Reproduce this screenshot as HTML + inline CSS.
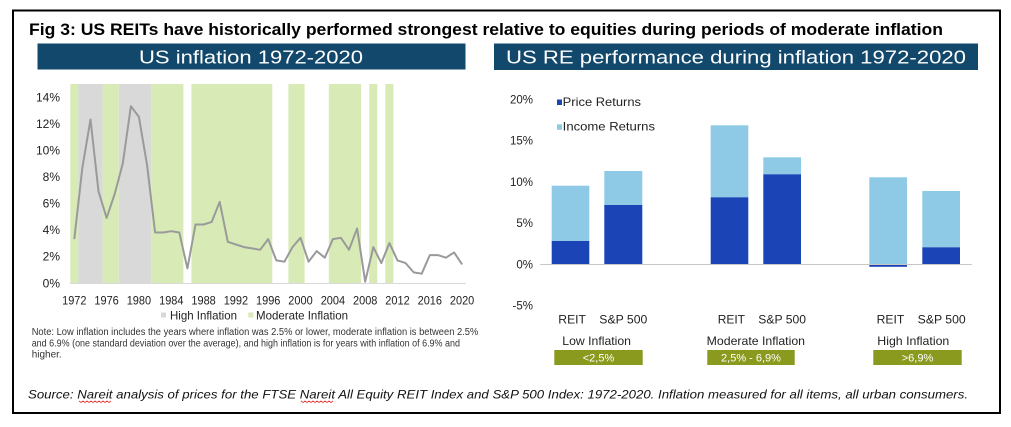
<!DOCTYPE html>
<html><head><meta charset="utf-8"><style>
html,body{margin:0;padding:0;background:#fff;}
svg{display:block;font-family:"Liberation Sans",Arial,sans-serif;}
</style></head><body>
<svg width="1011" height="427" viewBox="0 0 1011 427" xmlns="http://www.w3.org/2000/svg">
<rect x="0" y="0" width="1011" height="427" fill="#fff"/>
<rect x="13" y="10.5" width="987" height="402.5" fill="none" stroke="#000" stroke-width="2"/>
<text x="29" y="35" font-size="17" font-weight="bold" fill="#000" textLength="914" lengthAdjust="spacingAndGlyphs">Fig 3: US REITs have historically performed strongest relative to equities during periods of moderate inflation</text>

<!-- header bars -->
<rect x="37.5" y="43.5" width="428" height="26" fill="#12486b"/>
<text x="251" y="63.3" font-size="18.5" fill="#fff" text-anchor="middle" textLength="224" lengthAdjust="spacingAndGlyphs">US inflation 1972-2020</text>
<rect x="494" y="43.5" width="484" height="26.5" fill="#12486b"/>
<text x="736" y="63.5" font-size="18.5" fill="#fff" text-anchor="middle" textLength="460" lengthAdjust="spacingAndGlyphs">US RE performance during inflation 1972-2020</text>

<!-- left chart bands -->
<g fill="#d8ebb6">
<rect x="70.3" y="84" width="8.1" height="199"/>
<rect x="102.6" y="84" width="16.2" height="199"/>
<rect x="151.1" y="84" width="32.3" height="199"/>
<rect x="191.4" y="84" width="80.9" height="199"/>
<rect x="288.4" y="84" width="16.2" height="199"/>
<rect x="328.8" y="84" width="32.3" height="199"/>
<rect x="369.2" y="84" width="8.1" height="199"/>
<rect x="385.3" y="84" width="8.1" height="199"/>
</g>
<g fill="#d9d9d9">
<rect x="78.4" y="84" width="24.2" height="199"/>
<rect x="118.8" y="84" width="32.3" height="199"/>
</g>
<line x1="70" y1="283.5" x2="466" y2="283.5" stroke="#d9d9d9" stroke-width="1"/>
<polyline fill="none" stroke="#9a9a9a" stroke-width="2" stroke-linejoin="round" points="74.3,239.1 82.4,167.4 90.5,119.5 98.5,191.3 106.6,217.9 114.7,194.0 122.8,163.4 130.9,106.2 138.9,116.9 147.0,164.7 155.1,232.5 163.2,232.5 171.3,231.2 179.3,232.5 187.4,268.4 195.5,224.5 203.6,224.5 211.7,221.9 219.7,201.9 227.8,241.8 235.9,244.5 244.0,247.1 252.1,248.4 260.1,249.8 268.2,239.1 276.3,260.4 284.4,261.7 292.5,247.1 300.5,237.8 308.6,261.7 316.7,251.1 324.8,257.7 332.9,239.1 340.9,237.8 349.0,249.8 357.1,228.5 365.2,281.7 373.3,247.1 381.3,263.1 389.4,243.1 397.5,260.4 405.6,263.1 413.7,272.4 421.7,273.7 429.8,255.1 437.9,255.1 446.0,257.7 454.1,252.4 462.1,264.4"/>

<!-- left y ticks -->
<g font-size="12" fill="#222" text-anchor="end">
<text x="60" y="287.3">0%</text>
<text x="60" y="260.7">2%</text>
<text x="60" y="234.2">4%</text>
<text x="60" y="207.6">6%</text>
<text x="60" y="181.0">8%</text>
<text x="60" y="154.4">10%</text>
<text x="60" y="127.9">12%</text>
<text x="60" y="101.3">14%</text>
</g>
<!-- left x ticks -->
<g font-size="12" fill="#222" text-anchor="middle">
<text x="74.3" y="304.3" textLength="24.4" lengthAdjust="spacingAndGlyphs">1972</text>
<text x="106.6" y="304.3" textLength="24.4" lengthAdjust="spacingAndGlyphs">1976</text>
<text x="138.9" y="304.3" textLength="24.4" lengthAdjust="spacingAndGlyphs">1980</text>
<text x="171.3" y="304.3" textLength="24.4" lengthAdjust="spacingAndGlyphs">1984</text>
<text x="203.6" y="304.3" textLength="24.4" lengthAdjust="spacingAndGlyphs">1988</text>
<text x="235.9" y="304.3" textLength="24.4" lengthAdjust="spacingAndGlyphs">1992</text>
<text x="268.2" y="304.3" textLength="24.4" lengthAdjust="spacingAndGlyphs">1996</text>
<text x="300.5" y="304.3" textLength="24.4" lengthAdjust="spacingAndGlyphs">2000</text>
<text x="332.9" y="304.3" textLength="24.4" lengthAdjust="spacingAndGlyphs">2004</text>
<text x="365.2" y="304.3" textLength="24.4" lengthAdjust="spacingAndGlyphs">2008</text>
<text x="397.5" y="304.3" textLength="24.4" lengthAdjust="spacingAndGlyphs">2012</text>
<text x="429.8" y="304.3" textLength="24.4" lengthAdjust="spacingAndGlyphs">2016</text>
<text x="462.1" y="304.3" textLength="24.4" lengthAdjust="spacingAndGlyphs">2020</text>
</g>
<!-- left legend -->
<rect x="161" y="312.5" width="5" height="5" fill="#d9d9d9"/>
<text x="170" y="319.3" font-size="12" fill="#222" textLength="67" lengthAdjust="spacingAndGlyphs">High Inflation</text>
<rect x="248.3" y="312.5" width="5" height="5" fill="#d8ebb6"/>
<text x="256" y="319.3" font-size="12" fill="#222" textLength="92" lengthAdjust="spacingAndGlyphs">Moderate Inflation</text>
<!-- note -->
<g font-size="10" fill="#333">
<text x="31.7" y="335" textLength="446.6" lengthAdjust="spacingAndGlyphs">Note: Low inflation includes the years where inflation was 2.5% or lower, moderate inflation is between 2.5%</text>
<text x="31.7" y="346.5" textLength="428.3" lengthAdjust="spacingAndGlyphs">and 6.9% (one standard deviation over the average), and high inflation is for years with inflation of 6.9% and</text>
<text x="31.7" y="357.5" textLength="30" lengthAdjust="spacingAndGlyphs">higher.</text>
</g>

<!-- right chart -->
<g font-size="11.5" fill="#222" text-anchor="end">
<text x="533" y="103.5">20%</text>
<text x="533" y="144.5">15%</text>
<text x="533" y="186">10%</text>
<text x="533" y="227">5%</text>
<text x="533" y="268.5">0%</text>
<text x="533" y="309.5">-5%</text>
</g>
<g fill="#8ecae6">
<rect x="551.7" y="185.7" width="37.6" height="55.3"/>
<rect x="604.3" y="171" width="38" height="34"/>
<rect x="710.7" y="125.3" width="37.6" height="72"/>
<rect x="763.3" y="157.3" width="37.7" height="17"/>
<rect x="869.3" y="177.3" width="37.7" height="87"/>
<rect x="922.3" y="191" width="37.7" height="56.3"/>
</g>
<g fill="#1b45b7">
<rect x="551.7" y="241" width="37.6" height="23.3"/>
<rect x="604.3" y="205" width="38" height="59.3"/>
<rect x="710.7" y="197.3" width="37.6" height="67"/>
<rect x="763.3" y="174.3" width="37.7" height="90"/>
<rect x="869.3" y="264.3" width="37.7" height="2.5"/>
<rect x="922.3" y="247.3" width="37.7" height="17"/>
</g>
<line x1="540" y1="264.5" x2="972" y2="264.5" stroke="#c8c8c8" stroke-width="1"/>
<!-- right legend -->
<rect x="557" y="99.5" width="5" height="5.5" fill="#1b45b7"/>
<text x="562.7" y="106" font-size="12" fill="#222" textLength="78.3" lengthAdjust="spacingAndGlyphs">Price Returns</text>
<rect x="557" y="124.3" width="5" height="5.5" fill="#8ecae6"/>
<text x="562.7" y="130.6" font-size="12" fill="#222" textLength="92.3" lengthAdjust="spacingAndGlyphs">Income Returns</text>

<!-- categories -->
<g font-size="12" fill="#222">
<text x="558.3" y="323.5" textLength="27.7" lengthAdjust="spacingAndGlyphs">REIT</text>
<text x="599.3" y="323.5" textLength="48" lengthAdjust="spacingAndGlyphs">S&amp;P 500</text>
<text x="717.7" y="323.5" textLength="27.3" lengthAdjust="spacingAndGlyphs">REIT</text>
<text x="758.3" y="323.5" textLength="47.7" lengthAdjust="spacingAndGlyphs">S&amp;P 500</text>
<text x="876.7" y="323.5" textLength="27.6" lengthAdjust="spacingAndGlyphs">REIT</text>
<text x="917.7" y="323.5" textLength="48" lengthAdjust="spacingAndGlyphs">S&amp;P 500</text>
<text x="562.3" y="345" textLength="68.7" lengthAdjust="spacingAndGlyphs">Low Inflation</text>
<text x="706.7" y="345" textLength="98.3" lengthAdjust="spacingAndGlyphs">Moderate Inflation</text>
<text x="877.3" y="345" textLength="72" lengthAdjust="spacingAndGlyphs">High Inflation</text>
</g>
<g fill="#8a9a1f">
<rect x="554.3" y="350" width="88.4" height="15"/>
<rect x="707.3" y="350" width="87.4" height="15"/>
<rect x="873.3" y="350" width="88.4" height="15"/>
</g>
<g font-size="11" fill="#fff" text-anchor="middle">
<text x="598.5" y="361.5">&lt;2,5%</text>
<text x="751" y="361.5">2,5% - 6,9%</text>
<text x="917.5" y="361.5">&gt;6,9%</text>
</g>

<!-- source -->
<text x="28" y="398.5" font-size="12" font-style="italic" fill="#111" textLength="940" lengthAdjust="spacingAndGlyphs">Source: Nareit analysis of prices for the FTSE Nareit All Equity REIT Index and S&amp;P 500 Index: 1972-2020. Inflation measured for all items, all urban consumers.</text>
<polyline fill="none" stroke="#e03030" stroke-width="0.8" points="79,401 81,402.5 83,401 85,402.5 87,401 89,402.5 91,401 93,402.5 95,401 97,402.5 99,401 101,402.5 103,401 105,402.5 107,401 109,402.5 111,401"/>
<polyline fill="none" stroke="#e03030" stroke-width="0.8" points="301,401 303,402.5 305,401 307,402.5 309,401 311,402.5 313,401 315,402.5 317,401 319,402.5 321,401 323,402.5 325,401 327,402.5 329,401 331,402.5 333,401"/>
</svg>
</body></html>
